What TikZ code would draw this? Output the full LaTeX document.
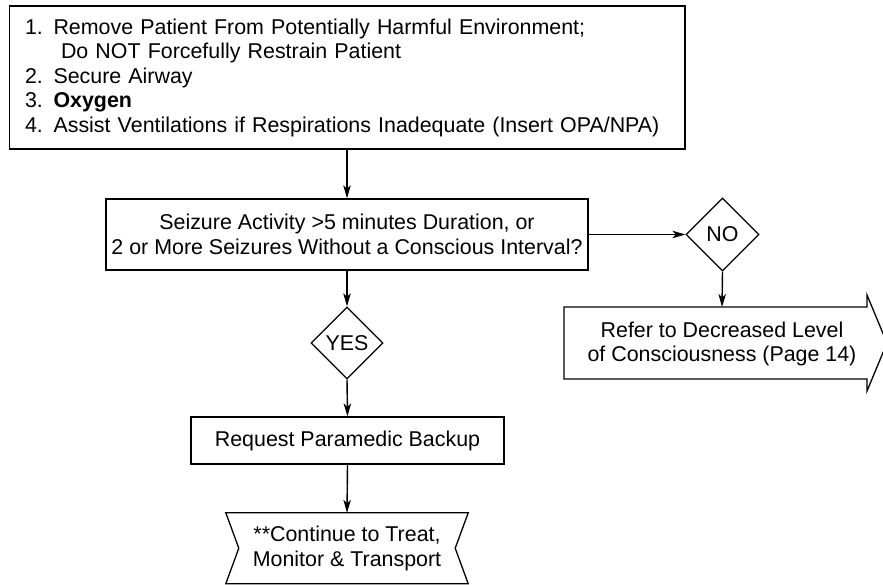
\documentclass[tikz,border=0pt]{standalone}
\usepackage{fontspec}
\setmainfont{Liberation Sans}
\usetikzlibrary{shapes.geometric,arrows.meta,calc}
\begin{document}
\begin{tikzpicture}[x=1pt,y=-1pt,
  every node/.style={font=\fontsize{21.4}{24.5}\selectfont, inner sep=0pt},
  box/.style={draw, line width=1.3pt},
  decision/.style={draw, diamond, line width=1.3pt, minimum width=73pt, minimum height=73pt, inner sep=0pt},
  arr/.style={line width=1.4pt, -{Stealth[length=13pt,width=7.5pt,inset=3.5pt]}},
  outline/.style={draw, line width=1.3pt, line join=miter}]
\useasboundingbox (0,0) rectangle (883,585);

\node[box, minimum width=675.5pt, minimum height=143pt, text width=644.5pt, align=left, inner xsep=15.5pt] (top) at (347.25,77.5)
 {1. Remove Patient From Potentially Harmful Environment;\\
  \hspace*{36pt}Do NOT Forcefully Restrain Patient\\
  2. Secure Airway\\
  3. \textbf{Oxygen}\\
  4. Assist Ventilations if Respirations Inadequate (Insert OPA/NPA)};

\node[box, minimum width=482pt, minimum height=71pt, align=center] (seiz) at (347,234.5)
 {Seizure Activity >5 minutes Duration, or\\2 or More Seizures Without a Conscious Interval?};

\node[decision] (no) at (722.5,234.5) {NO};
\node[decision, minimum width=72pt, minimum height=72pt] (yes) at (347,343) {YES};

\node[box, minimum width=313pt, minimum height=47pt] (req) at (347.5,440.5) {Request Paramedic Backup};

\node[align=center, minimum width=242pt, minimum height=70.5pt] (cont) at (347,548.25)
 {**Continue to Treat,\\Monitor \& Transport};
\draw[outline] (cont.north west) -- (cont.north east) -- ($(cont.east)+(-13,0)$) -- (cont.south east)
  -- (cont.south west) -- ($(cont.west)+(13,0)$) -- cycle;

\node[align=center] (refer) at (722,344) {Refer to Decreased Level\\of Consciousness (Page 14)};
\coordinate (rtop) at (722,307);
\draw[outline] (564,307) -- (867,307) -- (867,295) -- (887,343) -- (867,391) -- (867,379) -- (564,379) -- cycle;

\draw[arr] (seiz.north |- top.south) -- (seiz.north);
\draw[arr] (seiz.east) -- (no.west);
\draw[arr] (no.south) -- (rtop);
\draw[arr] (seiz.south) -- (yes.north);
\draw[arr] (yes.south) -- (req.north);
\draw[arr] (req.south) -- (cont.north);
\end{tikzpicture}
\end{document}
